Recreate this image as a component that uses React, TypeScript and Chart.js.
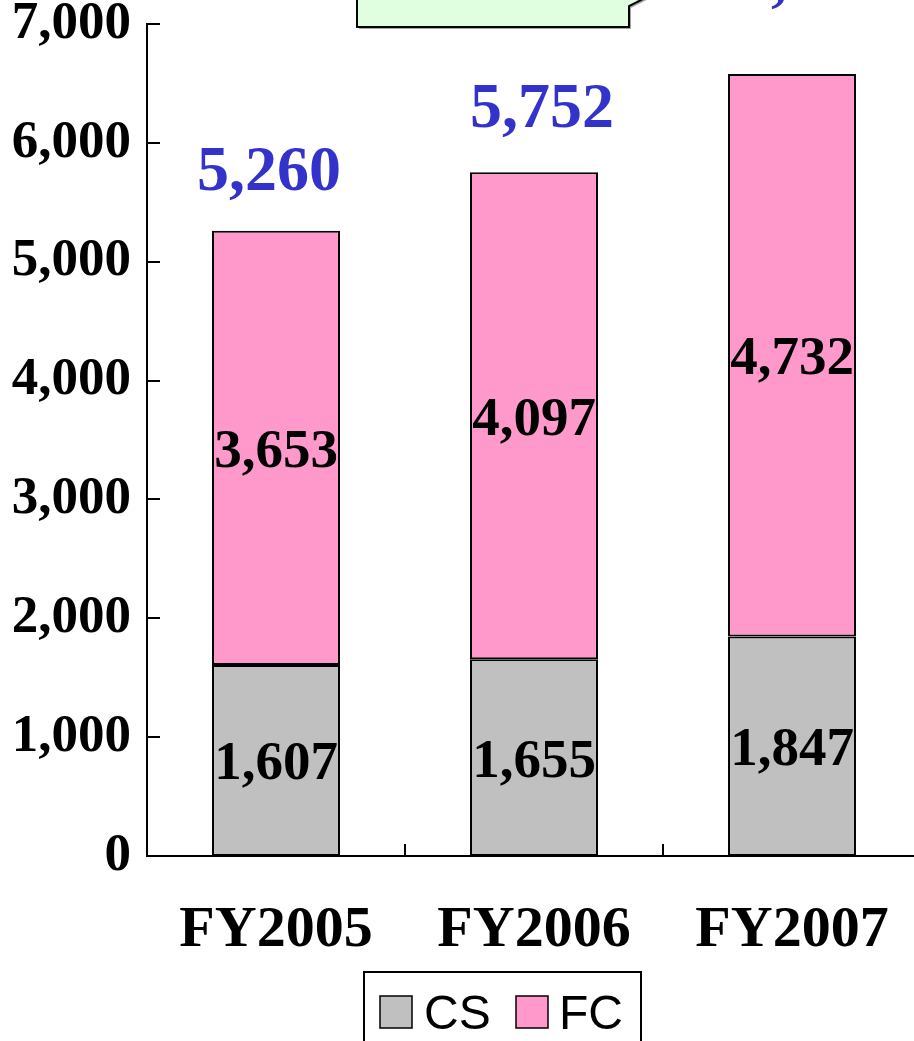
import React, { useEffect, useRef } from "react";
import { Chart, registerables } from "chart.js";
Chart.register(...registerables);

const categories = ["FY2005", "FY2006", "FY2007"];
const csValues = [1607, 1655, 1847];
const fcValues = [3653, 4097, 4732];
const seriesNames = ["CS", "FC"];
const yMin = 0;
const yMax = 7000;
const yStep = 1000;

const CS_COLOR = "#C0C0C0";
const FC_COLOR = "#FF99CC";
const TOTAL_COLOR = "#3333CC";
const SERIF = "'Liberation Serif', 'Times New Roman', serif";
const SANS = "'Liberation Sans', Arial, sans-serif";

const TOP_SHIFT = 60; // canvas is shifted up by this amount
const CANVAS_W = 930;
const CANVAS_H = 1130;
const X_AXIS_H = 100;
const PLOT_BOTTOM_CANVAS = 916;

// hand-placed offsets of total labels relative to bar top / centre
const totalOffsets = [
  { dx: -7, dy: -41 },
  { dx: 8, dy: -45 },
  { dx: 19, dy: -75 },
];

const fmt = (v: number) => v.toLocaleString("en-US");

const decorPlugin = {
  id: "decor",
  afterDatasetsDraw(chart: any) {
    const ctx = chart.ctx;
    const xs = chart.scales.x;
    const ys = chart.scales.y;
    const area = chart.chartArea;
    ctx.save();
    // inward ticks on y axis
    ctx.strokeStyle = "#000";
    ctx.lineWidth = 2;
    for (let v = yMin; v <= yMax; v += yStep) {
      const py = Math.round(ys.getPixelForValue(v));
      ctx.beginPath();
      ctx.moveTo(area.left, py);
      ctx.lineTo(area.left + 13, py);
      ctx.stroke();
    }
    // inward ticks on x axis at category boundaries
    const n = categories.length;
    const w = (xs.right - xs.left) / n;
    for (let i = 1; i < n; i++) {
      const px = Math.round(xs.left + i * w);
      ctx.beginPath();
      ctx.moveTo(px, area.bottom);
      ctx.lineTo(px, area.bottom - 12);
      ctx.stroke();
    }
    // labels inside bars
    ctx.fillStyle = "#000";
    ctx.font = `bold 55px ${SERIF}`;
    ctx.textAlign = "center";
    ctx.textBaseline = "alphabetic";
    chart.data.datasets.forEach((ds: any, di: number) => {
      const meta = chart.getDatasetMeta(di);
      meta.data.forEach((bar: any, i: number) => {
        const cy = (bar.y + bar.base) / 2;
        ctx.fillText(fmt(ds.data[i]), bar.x, cy + 19);
      });
    });
    // callout box (partly above the visible area)
    const sy = (py: number) => py + TOP_SHIFT;
    ctx.beginPath();
    ctx.moveTo(357, sy(-60));
    ctx.lineTo(357, sy(27));
    ctx.lineTo(629, sy(27));
    ctx.lineTo(629, sy(6));
    ctx.lineTo(700, sy(-30));
    ctx.lineTo(629, sy(-20));
    ctx.lineTo(629, sy(-60));
    ctx.closePath();
    ctx.save();
    ctx.shadowColor = "rgba(0,0,0,0.35)";
    ctx.shadowOffsetX = 2;
    ctx.shadowOffsetY = 2;
    ctx.fillStyle = "#E0FFE0";
    ctx.fill();
    ctx.restore();
    ctx.strokeStyle = "#000";
    ctx.lineWidth = 2;
    ctx.stroke();
    // totals
    ctx.fillStyle = TOTAL_COLOR;
    ctx.font = `bold 64px ${SERIF}`;
    categories.forEach((_, i) => {
      const total = csValues[i] + fcValues[i];
      const px = xs.getPixelForValue(i) + totalOffsets[i].dx;
      const py = ys.getPixelForValue(total) + totalOffsets[i].dy;
      ctx.fillText(fmt(total), px, py);
    });
    // legend
    const lx = 364, ly = sy(972), lw = 277, lh = 90;
    ctx.fillStyle = "#fff";
    ctx.fillRect(lx, ly, lw, lh);
    ctx.strokeStyle = "#000";
    ctx.lineWidth = 2;
    ctx.strokeRect(lx, ly, lw, lh);
    const items = [
      { name: seriesNames[0], color: CS_COLOR, bx: 380, tx: 424 },
      { name: seriesNames[1], color: FC_COLOR, bx: 516, tx: 559 },
    ];
    ctx.font = `48px ${SANS}`;
    ctx.textAlign = "left";
    items.forEach((it) => {
      ctx.fillStyle = it.color;
      ctx.fillRect(it.bx, sy(996), 32, 32);
      ctx.lineWidth = 1.5;
      ctx.strokeStyle = "#000";
      ctx.strokeRect(it.bx, sy(996), 32, 32);
      ctx.fillStyle = "#000";
      ctx.fillText(it.name, it.tx, sy(1029));
    });
    ctx.restore();
  },
};

export default function App() {
  const ref = useRef<HTMLCanvasElement | null>(null);
  useEffect(() => {
    if (!ref.current) return;
    const chart = new Chart(ref.current, {
      type: "bar",
      data: {
        labels: categories,
        datasets: [
          {
            label: seriesNames[0],
            data: csValues,
            backgroundColor: CS_COLOR,
            borderColor: "#000",
            borderWidth: 2,
            borderSkipped: false,
            barPercentage: 0.496,
            categoryPercentage: 1,
          },
          {
            label: seriesNames[1],
            data: fcValues,
            backgroundColor: FC_COLOR,
            borderColor: "#000",
            borderWidth: 2,
            borderSkipped: false,
            barPercentage: 0.496,
            categoryPercentage: 1,
          },
        ],
      },
      options: {
        animation: false,
        responsive: false,
        maintainAspectRatio: false,
        devicePixelRatio: 1,
        layout: {
          padding: {
            top: 84,
            left: 0,
            right: 9,
            bottom: CANVAS_H - PLOT_BOTTOM_CANVAS - X_AXIS_H,
          },
        },
        plugins: {
          legend: { display: false },
          tooltip: { enabled: false },
          title: { display: false },
        },
        scales: {
          x: {
            stacked: true,
            offset: true,
            grid: { display: false },
            border: { display: true, color: "#000", width: 2 },
            ticks: {
              color: "#000",
              font: { family: SERIF, size: 58, weight: "bold" },
              padding: 32,
              maxRotation: 0,
              autoSkip: false,
            },
            afterFit: (s: any) => {
              s.height = X_AXIS_H;
            },
          },
          y: {
            stacked: true,
            min: yMin,
            max: yMax,
            grid: { display: false },
            border: { display: true, color: "#000", width: 2 },
            ticks: {
              stepSize: yStep,
              color: "#000",
              font: { family: SERIF, size: 53, weight: "bold" },
              padding: 8,
              callback: (v: any) => fmt(Number(v)),
            },
            afterFit: (s: any) => {
              s.width = 147;
            },
          },
        },
      },
      plugins: [decorPlugin],
    });
    return () => chart.destroy();
  }, []);
  return (
    <div
      style={{
        position: "fixed",
        left: 0,
        top: 0,
        width: 914,
        height: 1041,
        overflow: "hidden",
        background: "#fff",
      }}
    >
      <canvas
        ref={ref}
        width={CANVAS_W}
        height={CANVAS_H}
        style={{
          position: "absolute",
          left: 0,
          top: -TOP_SHIFT,
          width: CANVAS_W,
          height: CANVAS_H,
        }}
      />
    </div>
  );
}
